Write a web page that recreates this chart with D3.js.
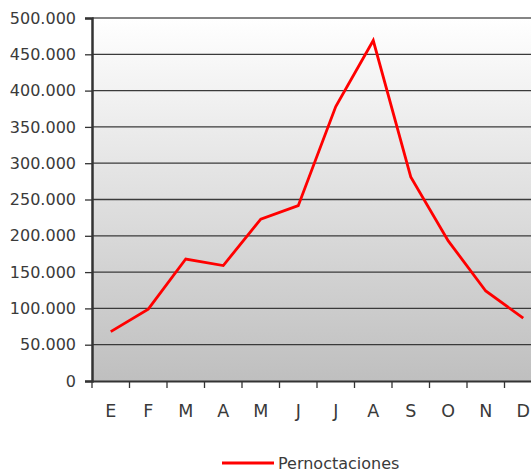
<!DOCTYPE html>
<html><head><meta charset="utf-8">
<script src="https://cdn.jsdelivr.net/npm/d3@7"></script>
<style>body{margin:0;background:#fff;}svg{display:block;}</style>
</head><body>
<svg id="c" width="531" height="472"></svg>
<script>
const months = ["E","F","M","A","M","J","J","A","S","O","N","D"];
const pernoctaciones = [68000, 99000, 168000, 159000, 223000, 241500, 378000, 469000, 281000, 193000, 124000, 86500];
const yTicks = [0, 50000, 100000, 150000, 200000, 250000, 300000, 350000, 400000, 450000, 500000];
const seriesName = "Pernoctaciones";

const svg = d3.select("#c");
const L = 92, T = 18, B = 381, R = 542;
const font = "DejaVu Sans";

const x = d3.scaleBand().domain(d3.range(months.length)).range([L, R]).padding(0);
const y = d3.scaleLinear().domain([0, 500000]).range([B, T]);

const defs = svg.append("defs");
const g = defs.append("linearGradient").attr("id","bg").attr("x1",0).attr("y1",0).attr("x2",0).attr("y2",1);
g.append("stop").attr("offset","0%").attr("stop-color","#ffffff");
g.append("stop").attr("offset","100%").attr("stop-color","#bfbfbf");

svg.append("rect").attr("x",L).attr("y",T).attr("width",R-L).attr("height",B-T).attr("fill","url(#bg)");

// gridlines
svg.append("g").selectAll("line").data(yTicks.filter(d=>d>0)).join("line")
  .attr("x1",L).attr("x2",R).attr("y1",d=>y(d)).attr("y2",d=>y(d))
  .attr("stroke",d=>d===500000?"#858585":"#3a3a3a").attr("stroke-width",d=>d===500000?2:1.3);

// y axis
const fmt = d => d3.format(",")(d).replace(/,/g,".");
const ya = svg.append("g").attr("transform",`translate(${L},0)`)
  .call(d3.axisLeft(y).tickValues(yTicks).tickFormat(fmt).tickSize(7).tickPadding(9));
ya.select(".domain").attr("stroke","#333").attr("stroke-width",2.5);
ya.selectAll(".tick line").attr("stroke","#333").attr("stroke-width",1.3);
ya.selectAll("text").attr("font-family",font).attr("font-size",16).attr("fill","#3a3a3a");

// x axis
const xa = svg.append("g").attr("transform",`translate(0,${B})`)
  .call(d3.axisBottom(x).tickFormat(i=>months[i]).tickSize(0).tickPadding(24));
xa.select(".domain").attr("stroke","#333").attr("stroke-width",2);
xa.selectAll("text").attr("font-family",font).attr("font-size",17.5).attr("fill","#3a3a3a");
svg.append("g").selectAll("line").data(d3.range(months.length+1)).join("line")
  .attr("x1",i=>L+i*x.bandwidth()).attr("x2",i=>L+i*x.bandwidth())
  .attr("y1",B).attr("y2",B+7).attr("stroke","#333").attr("stroke-width",1.3);

// line
const line = d3.line().x((d,i)=>x(i)+x.bandwidth()/2).y(d=>y(d));
svg.append("path").datum(pernoctaciones).attr("d",line)
  .attr("fill","none").attr("stroke","#ff0000").attr("stroke-width",2.8).attr("stroke-linejoin","miter");

// legend
const lg = svg.append("g");
lg.append("line").attr("x1",222).attr("x2",274).attr("y1",463).attr("y2",463).attr("stroke","#ff0000").attr("stroke-width",2.8);
lg.append("text").attr("x",278).attr("y",469).text(seriesName)
  .attr("font-family",font).attr("font-size",16).attr("fill","#3a3a3a");
</script>
</body></html>
